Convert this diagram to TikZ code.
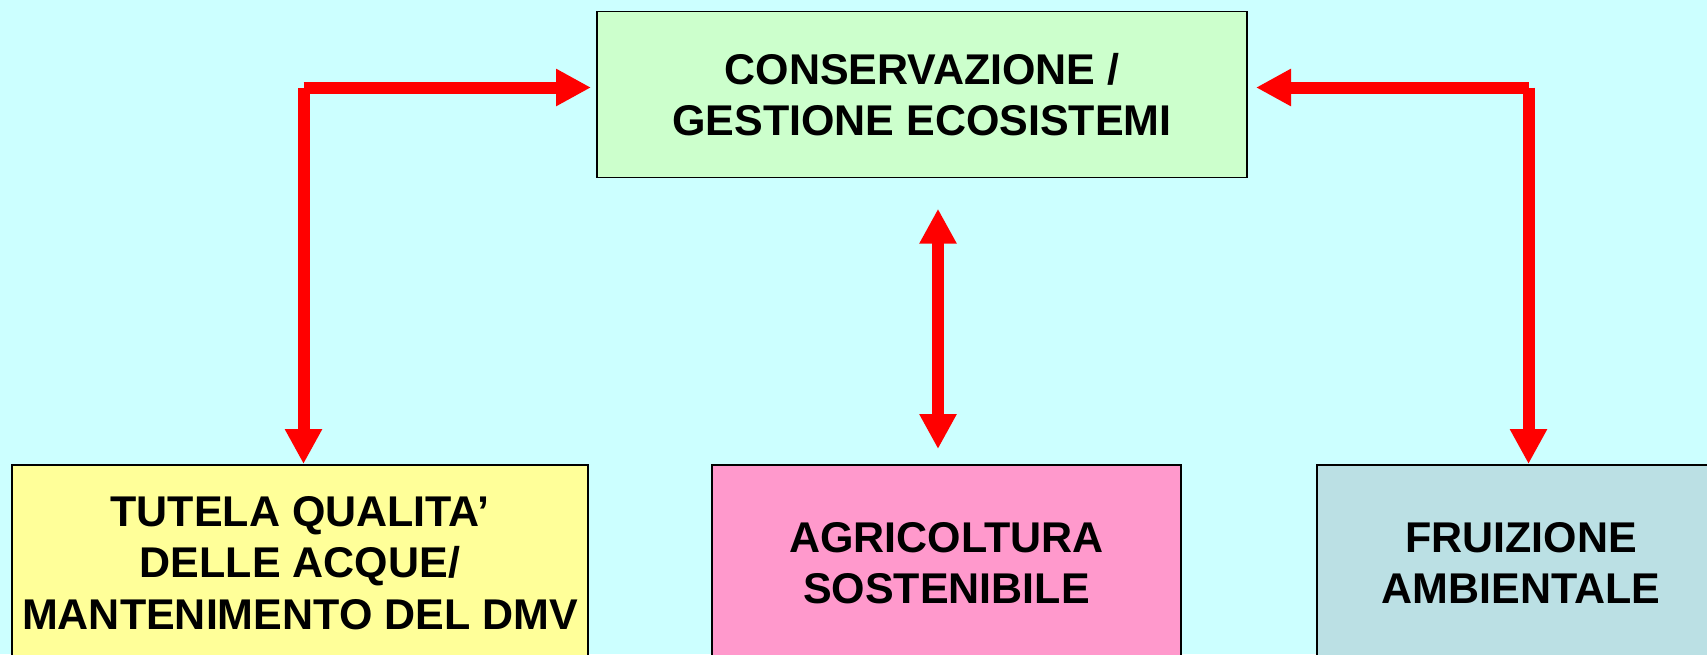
\documentclass[tikz,border=0pt]{standalone}
\usepackage{fontspec}
\setmainfont{Liberation Sans}
\usepackage{xcolor}
\usetikzlibrary{arrows.meta}

\definecolor{sfondo}{RGB}{204,255,255}
\definecolor{verde}{RGB}{204,255,204}
\definecolor{giallo}{RGB}{255,255,153}
\definecolor{rosa}{RGB}{255,153,204}
\definecolor{azzurro}{RGB}{187,224,228}

\begin{document}
\begin{tikzpicture}[x=1pt,y=-1pt,
    box/.style={draw=black, line width=1.5pt, inner sep=0pt, outer sep=0pt, align=center,
        font=\fontsize{43}{51.5}\selectfont\bfseries},
    link/.style={draw=red, line width=12pt},
    redhead/.style={-{Triangle[length=35pt,width=35pt]}}]
\fill[sfondo] (0,0) rectangle (1707,654);
\useasboundingbox (0,0) rectangle (1707,654);
\clip (0,0) rectangle (1707,654);

\node[box, fill=verde, minimum width=650pt, minimum height=166pt] (cons) at (922,94.7)
    {CONSERVAZIONE /\\GESTIONE ECOSISTEMI};
\node[box, fill=giallo, minimum width=576pt, minimum height=196pt] (tutela) at (300,563)
    {TUTELA QUALITA’\\DELLE ACQUE/\\MANTENIMENTO DEL DMV};
\node[box, fill=rosa, minimum width=469pt, minimum height=196pt] (agri) at (946.5,563)
    {AGRICOLTURA\\SOSTENIBILE};
\node[box, fill=azzurro, minimum width=408pt, minimum height=196pt] (frui) at (1521,563)
    {FRUIZIONE\\AMBIENTALE};

% corners of the two bent arrows
\coordinate (sx) at (303.5,87.5);
\coordinate (dx) at (1528.5,87.5);
\coordinate (mx) at (938,0);

\draw[link, redhead, shorten >=6pt] (sx) -- (cons.west |- sx);
\draw[link, redhead, shorten >=1pt] (sx) -- (tutela.north -| sx);
\draw[link, redhead, shorten >=9pt] (dx) -- (cons.east |- dx);
\draw[link, redhead, shorten >=1pt] (dx) -- (frui.north -| dx);
\draw[link, {Triangle[length=35pt,width=35pt]}-{Triangle[length=35pt,width=35pt]},
    shorten <=31pt, shorten >=16pt] (cons.south -| mx) -- (agri.north -| mx);
\end{tikzpicture}
\end{document}
